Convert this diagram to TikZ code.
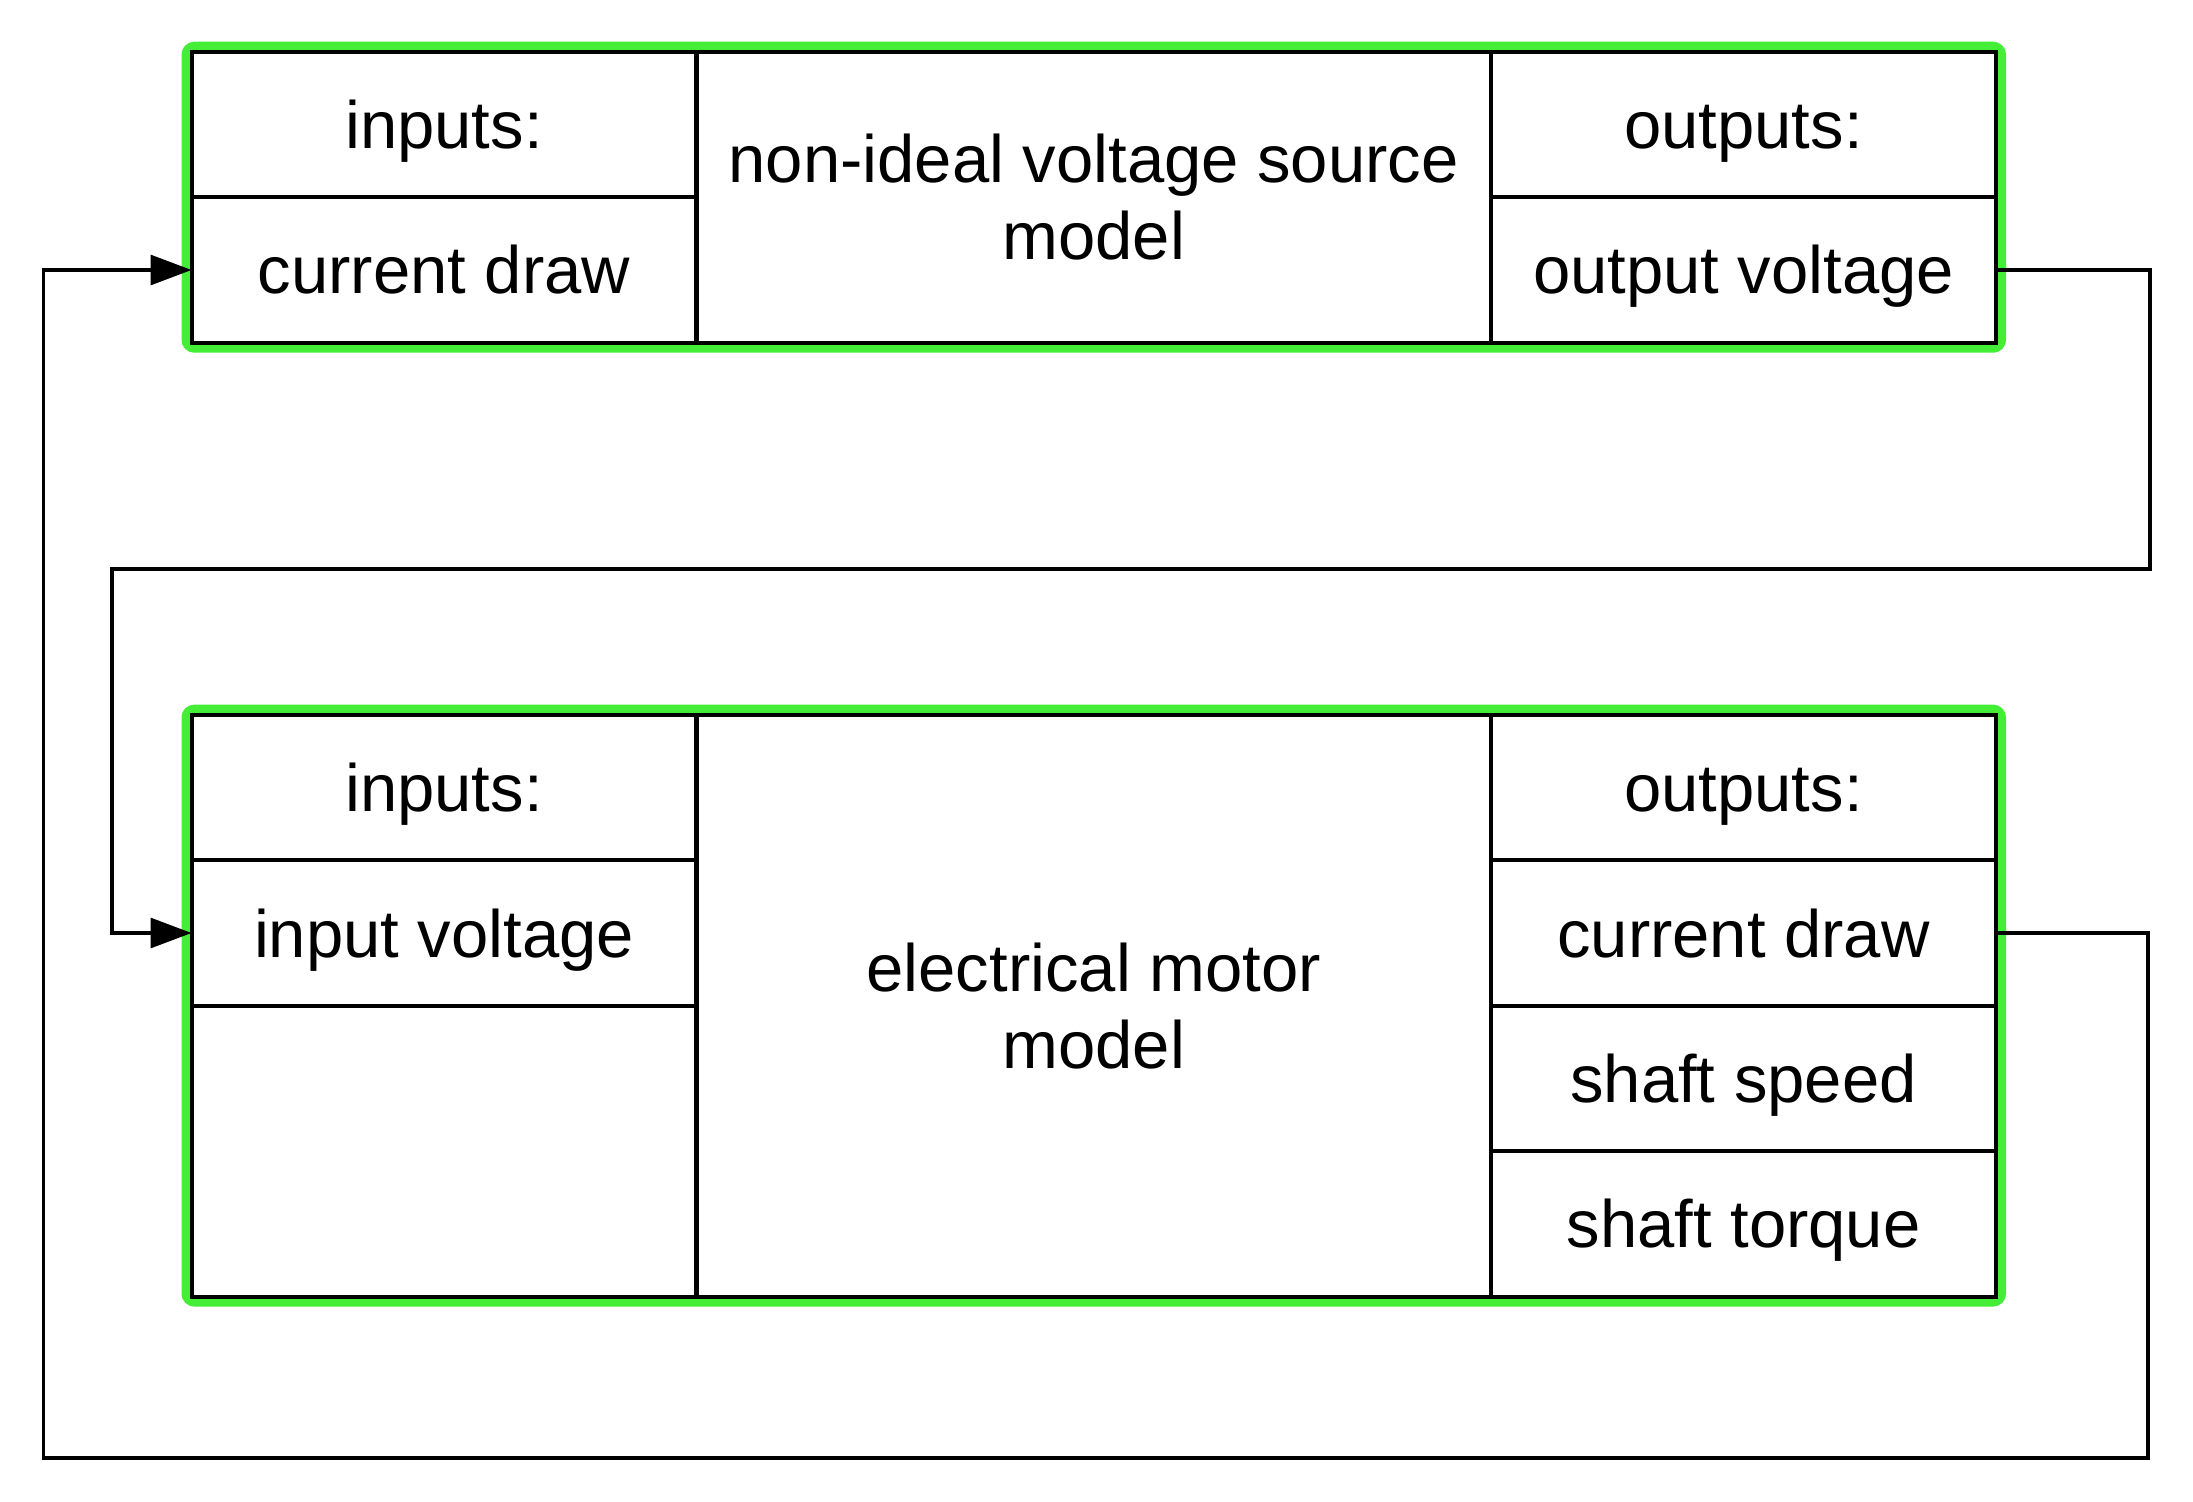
\documentclass[tikz,border=0pt]{standalone}
\usepackage{fontspec}
\setmainfont{Liberation Sans}
\usetikzlibrary{arrows.meta,fit,backgrounds}
\definecolor{frameGreen}{HTML}{44EE36}
\newcommand\cellfont{\fontsize{33.5pt}{38.5pt}\selectfont}
\begin{document}
\begin{tikzpicture}[x=0.5pt,y=-0.5pt,
  cell/.style={draw=black, line width=2pt, rectangle, inner sep=0pt, outer sep=0pt,
    minimum width=252.5pt, minimum height=72.75pt, text height=24pt, text depth=0pt, font=\cellfont},
  midcell/.style={draw=black, line width=2pt, rectangle, inner sep=0pt, outer sep=0pt,
    minimum width=397.25pt, align=center, font=\cellfont},
  greenframe/.style={draw=frameGreen, line width=5pt, rounded corners=4pt, inner sep=2.5pt, rectangle},
  conn/.style={draw=black, line width=1.6pt, line join=miter},
  arr/.style={-{Triangle[length=20.5pt,width=15pt]}}]

\useasboundingbox (0,0) rectangle (2193,1502);

% upper block: voltage source
\node[cell] (tin1)  at (444,124.5) {inputs:};
\node[cell] (tin2)  at (444,270)   {current draw};
\node[midcell, minimum height=145.5pt] (tmid) at (1093.7,197.2) {non-ideal voltage source\\model};
\node[cell] (tout1) at (1743.5,124.5) {outputs:};
\node[cell] (tout2) at (1743.5,270)   {output voltage};

% lower block: motor
\node[cell] (bin1) at (444,787.4) {inputs:};
\node[cell] (bin2) at (444,933)   {input voltage};
\node[cell, minimum height=145.5pt] (bin3) at (444,1151) {};
\node[midcell, minimum height=291pt] (bmid) at (1093.7,1005.6) {electrical motor\\model};
\node[cell] (bout1) at (1743.5,787.4)  {outputs:};
\node[cell] (bout2) at (1743.5,933)    {current draw};
\node[cell] (bout3) at (1743.5,1078.3) {shaft speed};
\node[cell] (bout4) at (1743.5,1223.8) {shaft torque};

% green frames behind the blocks
\begin{scope}[on background layer]
  \node[greenframe, fit=(tin1)(tout2)] (topframe) {};
  \node[greenframe, fit=(bin1)(bout4)] (botframe) {};
\end{scope}

% routing corners
\coordinate (rA) at (2150,569);
\coordinate (lA) at (112,569);
\coordinate (rB) at (2148,1458);
\coordinate (lB) at (43.5,1458);

% output voltage -> input voltage
\draw[conn, arr] (tout2.east) -| (rA) -- (lA) |- (bin2.west);
% current draw -> current draw
\draw[conn, arr] (bout2.east) -| (rB) -- (lB) |- (tin2.west);
\end{tikzpicture}
\end{document}
